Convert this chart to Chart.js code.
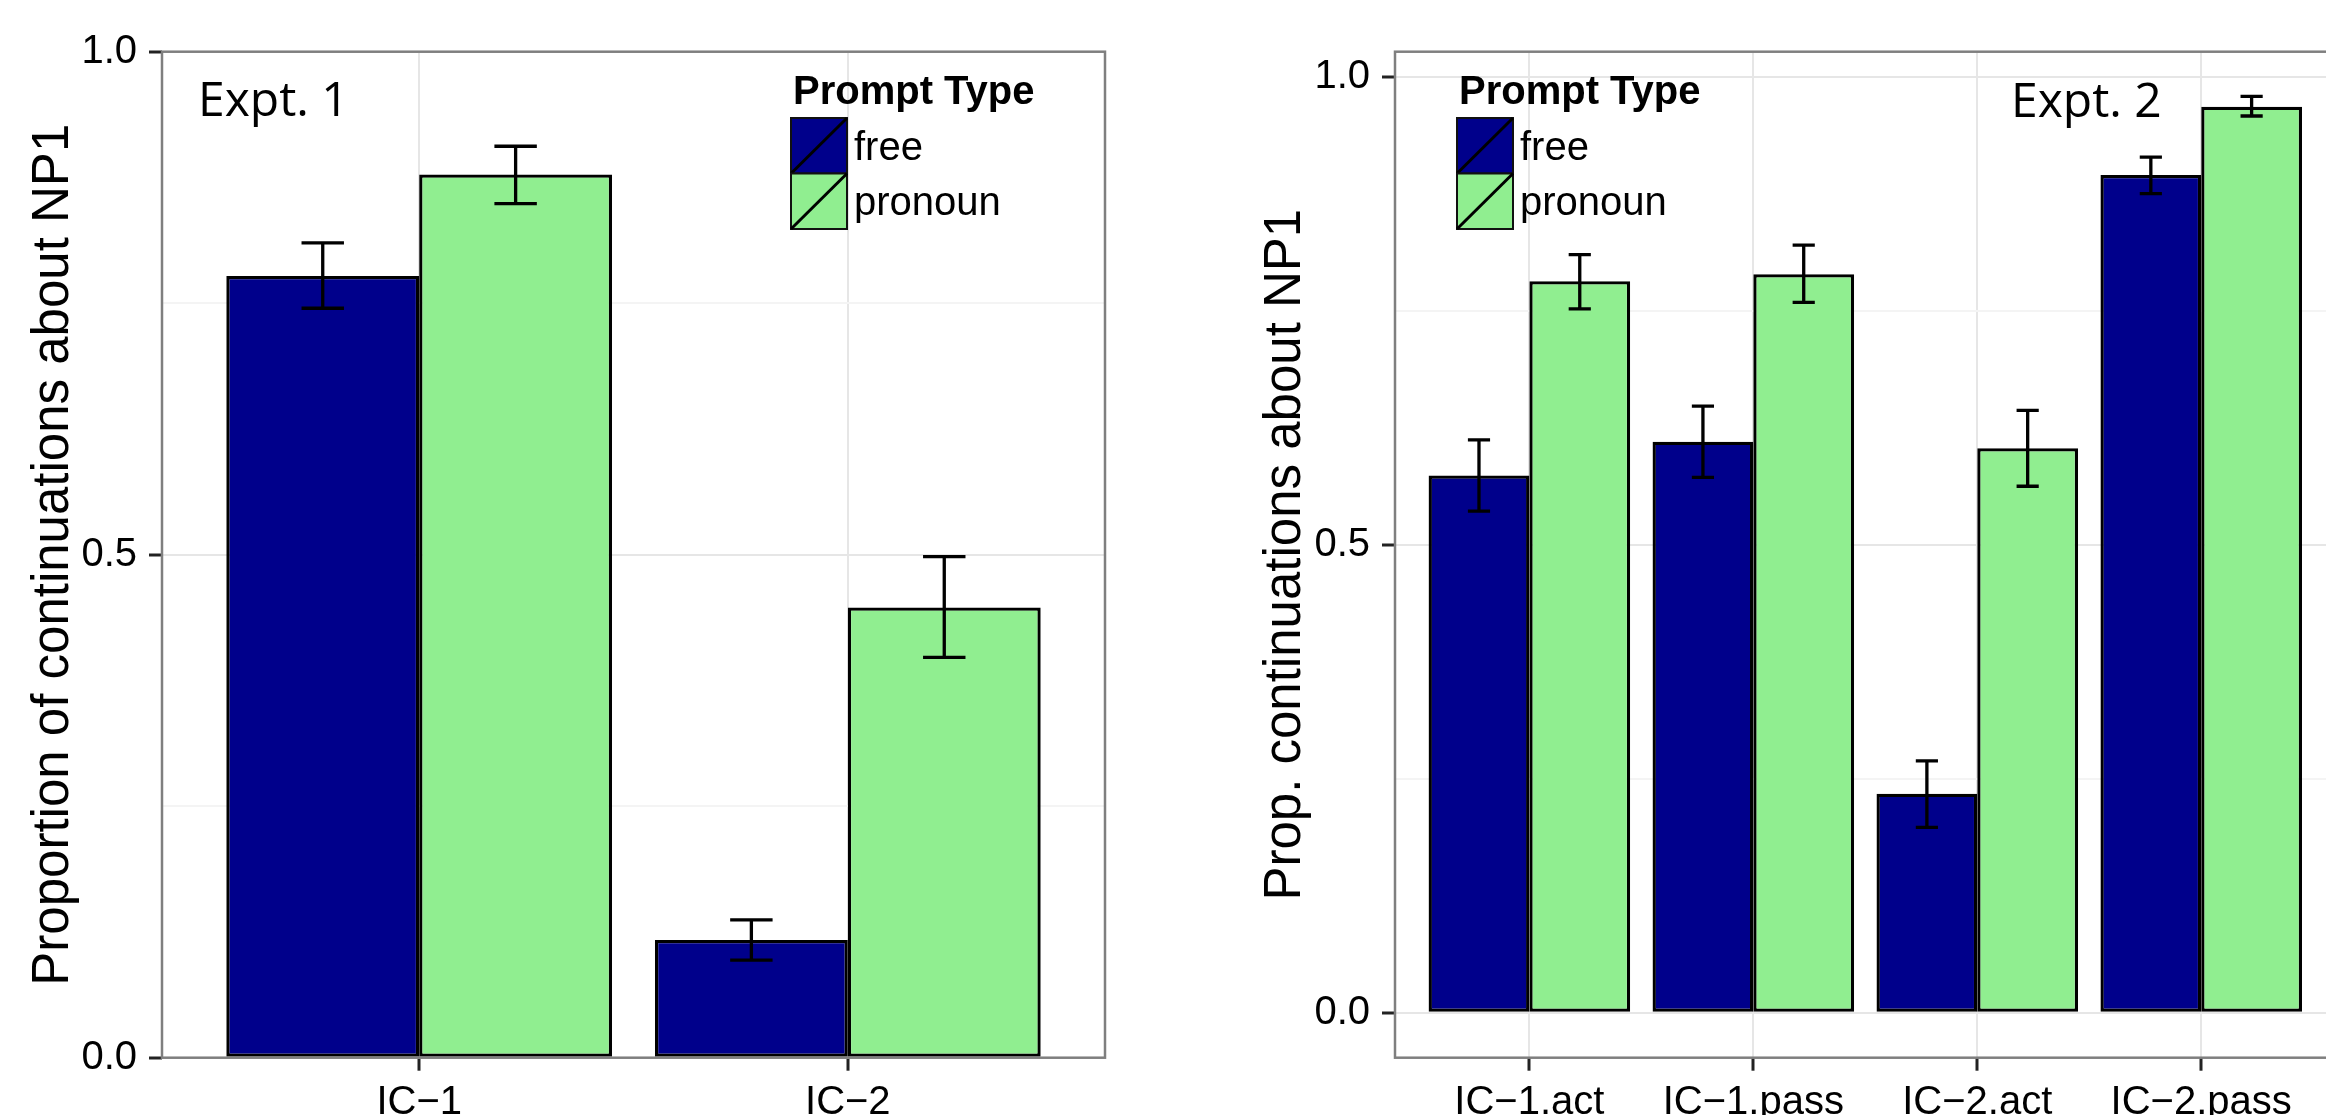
<!DOCTYPE html>
<html>
<head>
<meta charset="utf-8">
<script src="https://cdn.jsdelivr.net/npm/chart.js@4/dist/chart.umd.min.js"></script>
<style>
  html, body { margin: 0; padding: 0; background: #fff; width: 2326px; height: 1115px; overflow: hidden; }
  canvas { position: absolute; top: 0; }
  #exp1 { left: 0; }
  #exp2 { left: 1163px; }
</style>
</head>
<body>
<canvas id="exp1" width="1163" height="1115"></canvas>
<canvas id="exp2" width="1180" height="1115"></canvas>
<script>
// Expt. 1
const categories1 = ['IC\u22121', 'IC\u22122'];
const free1 = [0.777, 0.117];
const free1Lo = [0.745, 0.097];
const free1Hi = [0.810, 0.137];
const pronoun1 = [0.878, 0.4475];
const pronoun1Lo = [0.849, 0.398];
const pronoun1Hi = [0.906, 0.498];

// Expt. 2
const categories2 = ['IC\u22121.act', 'IC\u22121.pass', 'IC\u22122.act', 'IC\u22122.pass'];
const free2 = [0.574, 0.610, 0.234, 0.895];
const free2Lo = [0.536, 0.572, 0.198, 0.875];
const free2Hi = [0.612, 0.648, 0.269, 0.914];
const pronoun2 = [0.7815, 0.789, 0.603, 0.968];
const pronoun2Lo = [0.752, 0.759, 0.5625, 0.958];
const pronoun2Hi = [0.810, 0.820, 0.6435, 0.979];

const yMajor = [0, 0.5, 1.0];
const yMinor = [0.25, 0.75];
const seriesNames = ['free', 'pronoun'];
const seriesColors = ['#00008B', '#90EE90'];

const SANS = "'Liberation Sans', Arial, Helvetica, sans-serif";

// error bars, panel border, legend and panel label
const panelDecor = {
    id: 'panelDecor',
    afterDatasetsDraw(chart, args, opts) {
        const ctx = chart.ctx;
        const y = chart.scales.y;
        ctx.save();
        ctx.strokeStyle = '#000';
        ctx.lineWidth = 3.3;
        chart.data.datasets.forEach((ds, i) => {
            const meta = chart.getDatasetMeta(i);
            meta.data.forEach((bar, j) => {
                const top = y.getPixelForValue(ds.hi[j]);
                const bottom = y.getPixelForValue(ds.lo[j]);
                const half = bar.width * 0.11;
                ctx.beginPath();
                ctx.moveTo(bar.x, top);
                ctx.lineTo(bar.x, bottom);
                ctx.moveTo(bar.x - half, top);
                ctx.lineTo(bar.x + half, top);
                ctx.moveTo(bar.x - half, bottom);
                ctx.lineTo(bar.x + half, bottom);
                ctx.stroke();
            });
        });
        ctx.restore();
    },
    afterDraw(chart, args, opts) {
        const ctx = chart.ctx;
        const a = chart.chartArea;
        ctx.save();
        ctx.strokeStyle = '#7f7f7f';
        ctx.lineWidth = 2.5;
        ctx.strokeRect(a.left, a.top, a.right - a.left, a.bottom - a.top);

        // panel label
        ctx.fillStyle = '#000';
        ctx.textAlign = 'left';
        ctx.textBaseline = 'alphabetic';
        ctx.font = "48px 'Open Sans', sans-serif";
        ctx.fillText(opts.label, opts.labelX, opts.labelY);

        // legend
        const lg = opts.legend;
        ctx.font = 'bold 40px ' + SANS;
        ctx.fillText('Prompt Type', lg.x + 2, lg.y - 14);
        ctx.font = '40px ' + SANS;
        chart.data.datasets.forEach((ds, i) => {
            const kx = lg.x;
            const ky = lg.y + i * lg.h;
            ctx.fillStyle = ds.backgroundColor;
            ctx.fillRect(kx, ky, lg.w, lg.h);
            ctx.strokeStyle = '#111';
            ctx.lineWidth = 2;
            ctx.strokeRect(kx, ky, lg.w, lg.h);
            ctx.lineWidth = 3;
            ctx.strokeStyle = '#000';
            ctx.beginPath();
            ctx.moveTo(kx, ky + lg.h);
            ctx.lineTo(kx + lg.w, ky);
            ctx.stroke();
            ctx.fillStyle = '#000';
            ctx.fillText(ds.label, kx + lg.w + 7, ky + lg.h / 2 + 14);
        });
        ctx.restore();
    }
};

function makePanel(canvasId, categories, series, lows, highs, yRange, sizes, decor) {
    const datasets = series.map((values, i) => ({
        label: seriesNames[i],
        data: values.map((v, j) => ({ x: j + 1, y: v })),
        lo: lows[i],
        hi: highs[i],
        backgroundColor: seriesColors[i],
        borderColor: '#000',
        borderWidth: 3.3,
        borderSkipped: false,
        categoryPercentage: 0.9,
        barPercentage: 1.0
    }));

    return new Chart(document.getElementById(canvasId), {
        type: 'bar',
        data: { datasets },
        plugins: [panelDecor],
        options: {
            responsive: false,
            animation: false,
            events: [],
            layout: { padding: { top: 51.7, right: sizes.right, left: 0, bottom: 0 } },
            plugins: {
                legend: { display: false },
                tooltip: { enabled: false },
                panelDecor: decor
            },
            scales: {
                x: {
                    type: 'linear',
                    offset: false,
                    min: 0.4,
                    max: categories.length + 0.6,
                    afterBuildTicks: scale => {
                        scale.ticks = categories.map((c, i) => ({ value: i + 1 }));
                    },
                    afterFit: scale => { scale.height = 57.3; },
                    ticks: {
                        autoSkip: false,
                        maxRotation: 0,
                        padding: 8,
                        color: '#000',
                        font: { family: SANS, size: 40 },
                        callback: v => categories[v - 1]
                    },
                    grid: {
                        offset: false,
                        color: '#e6e6e6',
                        lineWidth: 2,
                        tickLength: 13,
                        tickWidth: 3,
                        tickColor: '#222'
                    },
                    border: { display: false }
                },
                y: {
                    type: 'linear',
                    min: yRange[0],
                    max: yRange[1],
                    afterBuildTicks: scale => {
                        scale.ticks = yMajor.concat(yMinor).sort((a, b) => a - b).map(v => ({ value: v }));
                    },
                    afterFit: scale => { scale.width = sizes.yWidth; },
                    ticks: {
                        padding: 12,
                        color: '#000',
                        font: { family: SANS, size: 40 },
                        callback: v => yMajor.includes(v) ? v.toFixed(1) : ''
                    },
                    grid: {
                        color: c => yMajor.includes(c.tick.value) ? '#e6e6e6' : '#f4f4f4',
                        lineWidth: 2,
                        tickLength: 13,
                        tickWidth: 3,
                        tickColor: c => yMajor.includes(c.tick.value) ? '#222' : 'rgba(0,0,0,0)'
                    },
                    border: { display: false },
                    title: {
                        display: true,
                        text: sizes.yTitle,
                        color: '#000',
                        font: { family: SANS, size: 51, lineHeight: 1.2 },
                        padding: { top: sizes.titlePad, bottom: 0 }
                    }
                }
            }
        }
    });
}

makePanel('exp1', categories1,
    [free1, pronoun1], [free1Lo, pronoun1Lo], [free1Hi, pronoun1Hi],
    [0, 1],
    { right: 58, yWidth: 162, titlePad: 23.4, yTitle: 'Proportion of continuations about NP1' },
    { label: 'Expt. 1', labelX: 198, labelY: 116, legend: { x: 791, y: 118, w: 56, h: 55.5 } });

makePanel('exp2', categories2,
    [free2, pronoun2], [free2Lo, pronoun2Lo], [free2Hi, pronoun2Hi],
    [-0.048, 1.0267],
    { right: 7.4, yWidth: 232, titlePad: 92.4, yTitle: 'Prop. continuations about NP1' },
    { label: 'Expt. 2', labelX: 848, labelY: 117, legend: { x: 294, y: 118, w: 56, h: 55.5 } });
</script>
</body>
</html>
